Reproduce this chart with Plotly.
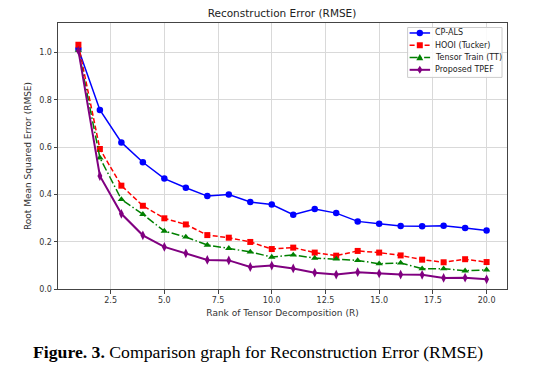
import plotly.graph_objects as go

ranks = list(range(1, 21))
cp_als = [1.015, 0.757, 0.620, 0.536, 0.467, 0.428, 0.393, 0.400, 0.368, 0.357,
          0.314, 0.338, 0.321, 0.286, 0.276, 0.266, 0.265, 0.267, 0.258, 0.247]
hooi = [1.033, 0.592, 0.437, 0.352, 0.299, 0.273, 0.228, 0.217, 0.199, 0.169,
        0.175, 0.154, 0.141, 0.161, 0.154, 0.142, 0.124, 0.113, 0.126, 0.114]
tt = [1.010, 0.555, 0.379, 0.316, 0.245, 0.220, 0.186, 0.172, 0.157, 0.135,
      0.144, 0.131, 0.127, 0.121, 0.107, 0.110, 0.086, 0.086, 0.077, 0.081]
tpef = [1.008, 0.478, 0.318, 0.227, 0.178, 0.151, 0.123, 0.121, 0.093, 0.099,
        0.087, 0.069, 0.061, 0.071, 0.066, 0.061, 0.060, 0.047, 0.048, 0.041]

x_ticks = [2.5, 5.0, 7.5, 10.0, 12.5, 15.0, 17.5, 20.0]
y_ticks = [0.0, 0.2, 0.4, 0.6, 0.8, 1.0]

series_names = ["CP-ALS", "HOOI (Tucker)", "Tensor Train (TT)", "Proposed TPEF"]
series_values = [cp_als, hooi, tt, tpef]
colors = ["#0000ff", "#ff0000", "#008000", "#800080"]
dashes = ["solid", "5px,2.5px", "8px,2.5px,1.5px,2.5px", "solid"]
symbols = ["circle", "square", "triangle-up", "diamond-tall"]
widths = [1.5, 1.5, 1.5, 2.0]
msizes = [6.5, 6, 6.5, 7]

W, H = 540, 372
L, R, T, B = 57.5, 507.0, 22.5, 289.0
PW, PH = R - L, B - T


def px(x):
    return (x - L) / PW


def py(y):
    return (B - y) / PH


fig = go.Figure()
for name, vals, color, dash, sym, lw, ms in zip(series_names, series_values, colors,
                                                dashes, symbols, widths, msizes):
    fig.add_trace(go.Scatter(
        x=ranks, y=vals, name=name, mode="lines+markers",
        line=dict(color=color, width=lw, dash=dash),
        marker=dict(symbol=sym, size=ms, color=color, line=dict(width=0)),
        showlegend=False,
    ))

axis_common = dict(
    showgrid=True, gridcolor="#d9d9d9", gridwidth=1,
    showline=True, linecolor="#444444", linewidth=1, mirror=True,
    ticks="outside", ticklen=3.5, tickcolor="#444444", tickwidth=1,
    tickfont=dict(family="DejaVu Sans", size=8, color="#333333"),
    zeroline=False, automargin=False,
)

fig.update_layout(
    width=W, height=H,
    margin=dict(l=L, r=W - R, t=T, b=H - B, autoexpand=False),
    paper_bgcolor="white", plot_bgcolor="white",
    title=dict(text="Reconstruction Error (RMSE)", x=282 / W, xref="container", xanchor="center",
               y=1 - 13 / H, yref="container", yanchor="middle", automargin=False,
               font=dict(family="DejaVu Sans", size=10.5, color="#222222")),
    xaxis=dict(range=[0.05, 20.95], tickvals=x_ticks,
               ticktext=[f"{v:.1f}" for v in x_ticks],
               title=dict(text="Rank of Tensor Decomposition (R)", standoff=5,
                          font=dict(family="DejaVu Sans", size=9, color="#333333")),
               **axis_common),
    yaxis=dict(range=[0, 1.125], tickvals=y_ticks,
               ticktext=[f"{v:.1f}" for v in y_ticks],
               title=dict(text="Root Mean Squared Error (RMSE)", standoff=6,
                          font=dict(family="DejaVu Sans", size=9, color="#333333")),
               **axis_common),
    showlegend=False,
)

# Legend (drawn as layout decoration)
shapes = []
annotations = []
shapes.append(dict(type="rect", xref="paper", yref="paper",
                   x0=px(407.5), x1=px(502), y0=py(77), y1=py(27),
                   line=dict(color="#cccccc", width=1),
                   fillcolor="rgba(255,255,255,0.85)", layer="above"))
row_y = [32.5, 44.8, 57.1, 69.4]
lx0, lx1, mx, tx = 409.5, 430.0, 419.7, 433.0
for name, color, dash, sym, lw, ry in zip(series_names, colors, dashes, symbols, widths, row_y):
    shapes.append(dict(type="line", xref="paper", yref="paper",
                       x0=px(lx0), x1=px(lx1), y0=py(ry), y1=py(ry),
                       line=dict(color=color, width=lw, dash=dash), layer="above"))
    if sym == "circle":
        r = 3.2
        shapes.append(dict(type="circle", xref="paper", yref="paper",
                           x0=px(mx - r), x1=px(mx + r), y0=py(ry + r), y1=py(ry - r),
                           line=dict(width=0), fillcolor=color, layer="above"))
    elif sym == "square":
        r = 3.0
        shapes.append(dict(type="rect", xref="paper", yref="paper",
                           x0=px(mx - r), x1=px(mx + r), y0=py(ry + r), y1=py(ry - r),
                           line=dict(width=0), fillcolor=color, layer="above"))
    elif sym == "triangle-up":
        pts = [(mx, ry - 3.5), (mx + 3.5, ry + 2.8), (mx - 3.5, ry + 2.8)]
        path = "M " + " L ".join(f"{px(a):.5f},{py(b):.5f}" for a, b in pts) + " Z"
        shapes.append(dict(type="path", xref="paper", yref="paper", path=path,
                           line=dict(width=0), fillcolor=color, layer="above"))
    else:
        pts = [(mx, ry - 4), (mx + 2.6, ry), (mx, ry + 4), (mx - 2.6, ry)]
        path = "M " + " L ".join(f"{px(a):.5f},{py(b):.5f}" for a, b in pts) + " Z"
        shapes.append(dict(type="path", xref="paper", yref="paper", path=path,
                           line=dict(width=0), fillcolor=color, layer="above"))
    annotations.append(dict(text=name, xref="paper", yref="paper", x=px(tx), y=py(ry),
                            xanchor="left", yanchor="middle", showarrow=False,
                            font=dict(family="DejaVu Sans", size=8, color="#222222")))

annotations.append(dict(
    text="<b>Figure. 3.</b> Comparison graph for Reconstruction Error (RMSE)",
    xref="paper", yref="paper", x=px(257.5), y=py(352),
    xanchor="center", yanchor="middle", showarrow=False,
    font=dict(family="Liberation Serif", size=17.7, color="#000000"),
))

fig.update_layout(shapes=shapes, annotations=annotations)

fig.write_html("out.html",
               config={"displayModeBar": False, "staticPlot": True},
               post_script="document.body.style.margin='0';document.body.style.padding='0';")
